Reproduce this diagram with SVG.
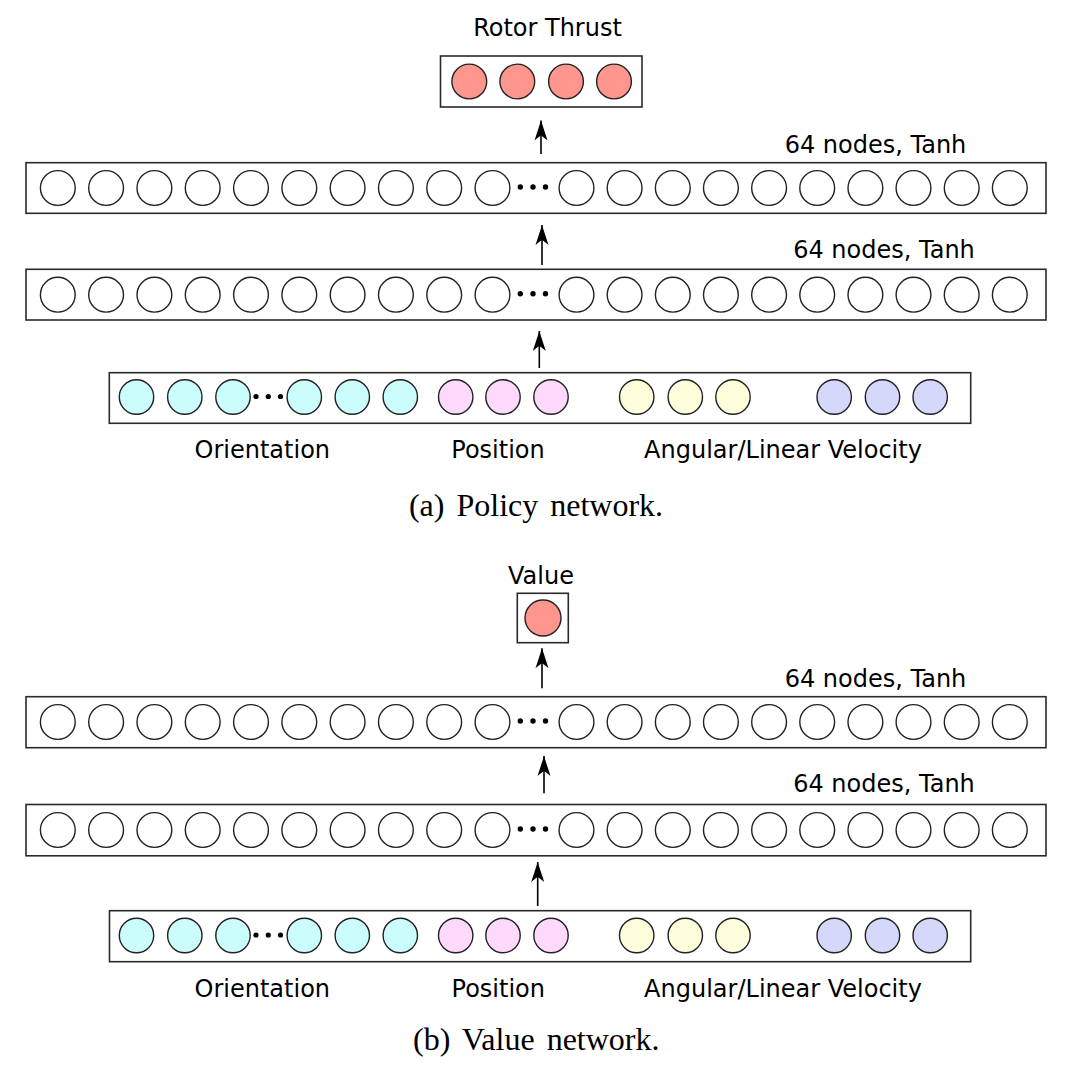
<svg xmlns="http://www.w3.org/2000/svg" xmlns:xlink="http://www.w3.org/1999/xlink" width="1068" height="1068" viewBox="0 0 1068 1068">
<style>
.box{fill:#fff;stroke:#2a2a2a;stroke-width:1.6}
.n{fill:#fff;stroke:#222;stroke-width:1.4}
.out{fill:#ff968e;stroke:#222;stroke-width:1.4}
.cy{fill:#ccfdfd;stroke:#222;stroke-width:1.4}
.pk{fill:#ffd9fb;stroke:#222;stroke-width:1.4}
.yl{fill:#fefedc;stroke:#222;stroke-width:1.4}
.bl{fill:#d4d9fb;stroke:#222;stroke-width:1.4}
.dot{fill:#000}
.lbl{font-family:"DejaVu Sans","Liberation Sans",sans-serif;font-size:24px;fill:#000}
.cap{font-family:"Liberation Serif","Times New Roman",serif;font-size:32px;fill:#000;word-spacing:4px}
.arr{stroke:#000;stroke-width:1.6;fill:none;marker-end:url(#ah)}
</style>
<defs>
<marker id="ah" markerUnits="userSpaceOnUse" viewBox="-21 -8 22 16" markerWidth="22" markerHeight="16" refX="0" refY="0" orient="auto">
<path d="M0,0 L-20,-6.5 Q-15.5,-1.2 -15,0 Q-15.5,1.2 -20,6.5 Z" fill="#000"/>
</marker>
<g id="hid">
<circle class="n" cx="57.8" cy="0" r="17.4"/><circle class="n" cx="106.1" cy="0" r="17.4"/><circle class="n" cx="154.4" cy="0" r="17.4"/><circle class="n" cx="202.7" cy="0" r="17.4"/><circle class="n" cx="251" cy="0" r="17.4"/><circle class="n" cx="299.3" cy="0" r="17.4"/><circle class="n" cx="347.6" cy="0" r="17.4"/><circle class="n" cx="395.9" cy="0" r="17.4"/><circle class="n" cx="444.2" cy="0" r="17.4"/><circle class="n" cx="492.5" cy="0" r="17.4"/>
<circle class="dot" cx="520.3" cy="-1" r="2.7"/><circle class="dot" cx="533" cy="-1" r="2.7"/><circle class="dot" cx="545.5" cy="-1" r="2.7"/>
<circle class="n" cx="576.5" cy="0" r="17.4"/><circle class="n" cx="624.6" cy="0" r="17.4"/><circle class="n" cx="672.8" cy="0" r="17.4"/><circle class="n" cx="720.9" cy="0" r="17.4"/><circle class="n" cx="769.1" cy="0" r="17.4"/><circle class="n" cx="817.2" cy="0" r="17.4"/><circle class="n" cx="865.4" cy="0" r="17.4"/><circle class="n" cx="913.5" cy="0" r="17.4"/><circle class="n" cx="961.7" cy="0" r="17.4"/><circle class="n" cx="1009.8" cy="0" r="17.4"/>
</g>
<g id="inp">
<circle class="cy" cx="136.5" cy="0" r="17.2"/><circle class="cy" cx="184.8" cy="0" r="17.2"/><circle class="cy" cx="233" cy="0" r="17.2"/>
<circle class="dot" cx="256" cy="-0.5" r="2.6"/><circle class="dot" cx="268.3" cy="-0.5" r="2.6"/><circle class="dot" cx="280.5" cy="-0.5" r="2.6"/>
<circle class="cy" cx="304.3" cy="0" r="17.2"/><circle class="cy" cx="352.3" cy="0" r="17.2"/><circle class="cy" cx="400.3" cy="0" r="17.2"/>
<circle class="pk" cx="455.7" cy="0" r="17.2"/><circle class="pk" cx="503" cy="0" r="17.2"/><circle class="pk" cx="551" cy="0" r="17.2"/>
<circle class="yl" cx="636.7" cy="0" r="17.2"/><circle class="yl" cx="685.3" cy="0" r="17.2"/><circle class="yl" cx="733" cy="0" r="17.2"/>
<circle class="bl" cx="834.2" cy="0" r="17.2"/><circle class="bl" cx="882.5" cy="0" r="17.2"/><circle class="bl" cx="930.2" cy="0" r="17.2"/>
</g>
</defs>

<!-- (a) Policy network -->
<g id="policy-output">
<rect class="box" x="440.5" y="56" width="201.5" height="51"/>
<circle class="out" cx="469.3" cy="81.5" r="17.4"/><circle class="out" cx="517.3" cy="81.5" r="17.4"/><circle class="out" cx="566" cy="81.5" r="17.4"/><circle class="out" cx="614" cy="81.5" r="17.4"/>
<text class="lbl" x="547.5" y="36" text-anchor="middle">Rotor Thrust</text>
</g>
<g id="policy-hidden2">
<rect class="box" x="26" y="162.7" width="1020" height="50.6"/>
<use xlink:href="#hid" href="#hid" y="188"/>
<text class="lbl" x="875.5" y="152.5" text-anchor="middle">64 nodes, Tanh</text>
</g>
<g id="policy-hidden1">
<rect class="box" x="26" y="269.3" width="1020" height="50.7"/>
<use xlink:href="#hid" href="#hid" y="294.7"/>
<text class="lbl" x="884" y="257.7" text-anchor="middle">64 nodes, Tanh</text>
</g>
<g id="policy-input">
<rect class="box" x="109.3" y="372.7" width="861.4" height="50.6"/>
<use xlink:href="#inp" href="#inp" y="397"/>
<text class="lbl" x="262.3" y="458" text-anchor="middle">Orientation</text>
<text class="lbl" x="498" y="457.5" text-anchor="middle">Position</text>
<text class="lbl" x="783" y="457.5" text-anchor="middle">Angular/Linear Velocity</text>
</g>
<text id="caption-a" class="cap" x="536" y="516" text-anchor="middle">(a) Policy network.</text>

<!-- (b) Value network -->
<g id="value-output">
<rect class="box" x="517.3" y="593.3" width="51" height="49.4"/>
<circle class="out" cx="543" cy="618" r="18"/>
<text class="lbl" x="541" y="583.5" text-anchor="middle">Value</text>
</g>
<g id="value-hidden2">
<rect class="box" x="26" y="696.7" width="1020" height="51"/>
<use xlink:href="#hid" href="#hid" y="722"/>
<text class="lbl" x="875.5" y="687" text-anchor="middle">64 nodes, Tanh</text>
</g>
<g id="value-hidden1">
<rect class="box" x="26" y="804.5" width="1020" height="51.3"/>
<use xlink:href="#hid" href="#hid" y="830"/>
<text class="lbl" x="884" y="792.3" text-anchor="middle">64 nodes, Tanh</text>
</g>
<g id="value-input">
<rect class="box" x="109.5" y="910.7" width="861.2" height="51"/>
<use xlink:href="#inp" href="#inp" y="935.5"/>
<text class="lbl" x="262.3" y="997" text-anchor="middle">Orientation</text>
<text class="lbl" x="498.3" y="996.5" text-anchor="middle">Position</text>
<text class="lbl" x="783" y="996.5" text-anchor="middle">Angular/Linear Velocity</text>
</g>
<text id="caption-b" class="cap" x="536.3" y="1050" text-anchor="middle">(b) Value network.</text>

<g id="connectors">
<line class="arr" x1="541" y1="154" x2="541" y2="120.5"/>
<line class="arr" x1="542" y1="265" x2="542" y2="225"/>
<line class="arr" x1="539.3" y1="368" x2="539.3" y2="331"/>
<line class="arr" x1="542" y1="688.3" x2="542" y2="648.3"/>
<line class="arr" x1="544" y1="793.3" x2="544" y2="756"/>
<line class="arr" x1="537.7" y1="906" x2="537.7" y2="862"/>
</g>
</svg>
